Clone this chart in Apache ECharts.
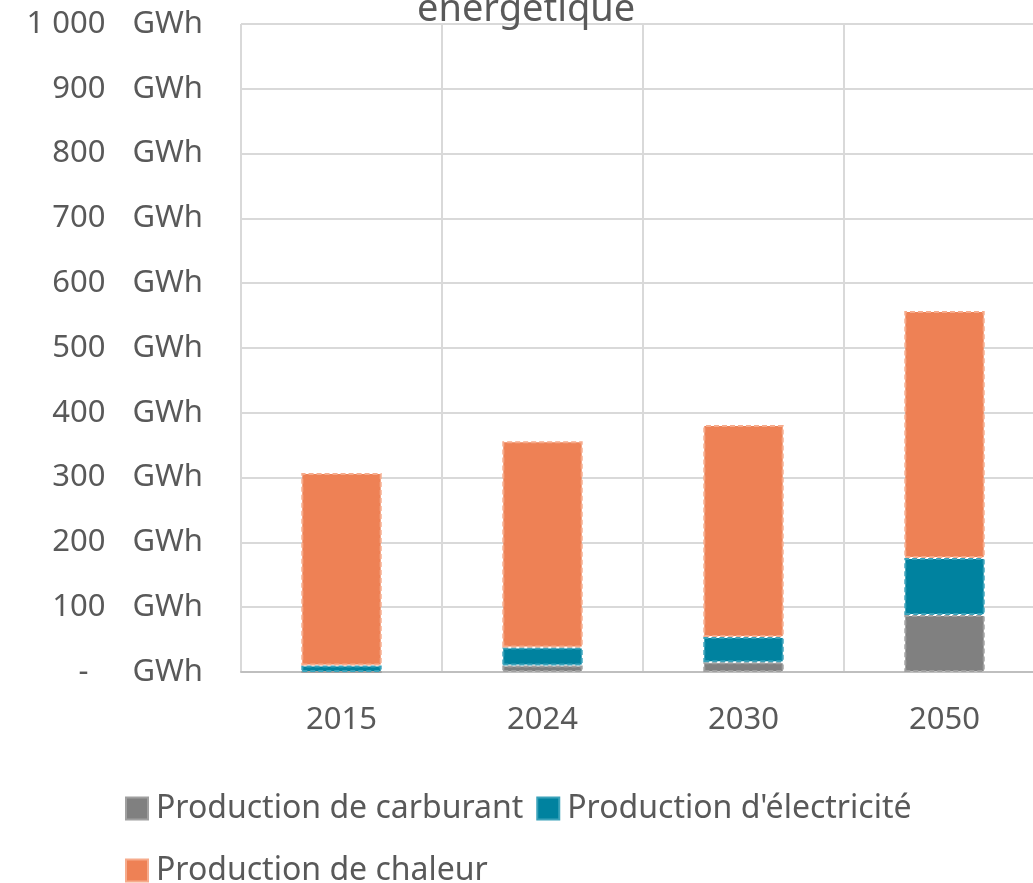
<!DOCTYPE html>
<html>
<head>
<meta charset="utf-8">
<script src="https://cdn.jsdelivr.net/npm/echarts@6/dist/echarts.min.js"></script>
<style>
  html, body { margin: 0; padding: 0; background: #fff; }
  #chart { width: 1033px; height: 883px; }
</style>
</head>
<body>
<div id="chart"></div>
<script>
var years = ['2015', '2024', '2030', '2050'];
var carburant = [0, 10, 15, 88];
var electricite = [10, 28, 39, 88];
var chaleur = [297, 318, 327, 381];

(function(){
    var font = '"Noto Sans", sans-serif';
    var txt = '#595959';
    var mychart = echarts.init(document.getElementById('chart'));

    // excel style "# ##0 GWh" labels, zero shown as a dash
    function fmt(v){
        if (v === 0) return '{z|-}{w|GWh}';
        var s = String(v).replace(/\B(?=(\d{3})+(?!\d))/g, ' ');
        return '{n|' + s + '}{u|GWh}';
    }

    function bar(name, data, fill, border){
        return {
            name: name,
            type: 'bar',
            stack: 'total',
            barWidth: '40%',
            data: data,
            itemStyle: {
                color: fill,
                borderColor: border,
                borderWidth: 2,
                borderType: [5, 3]
            }
        };
    }

    var lbl = { fontSize: 31, color: txt, fontFamily: font };
    var option = {
        animation: false,
        textStyle: { fontFamily: font },
        title: {
            text: 'énergétique',
            left: 417,
            top: -9,
            padding: 0,
            textStyle: { fontFamily: font, fontSize: 38, fontWeight: 'normal', color: txt }
        },
        // the plot runs past the right edge of the picture
        grid: { left: 241, width: 804, top: 24, bottom: 211, outerBoundsMode: 'none' },
        legend: {
            left: 125,
            top: 784,
            width: 840,
            padding: 0,
            itemWidth: 22,
            itemHeight: 22,
            itemGap: 13,
            icon: 'rect',
            textStyle: { fontFamily: font, fontSize: 32, color: txt, lineHeight: 49, padding: [0, 0, 0, 3] },
            data: ['Production de carburant', "Production d'électricité", 'Production de chaleur']
        },
        xAxis: {
            type: 'category',
            data: years,
            axisLine: { lineStyle: { color: '#bfbfbf', width: 2 } },
            axisTick: { show: false },
            splitLine: { show: true, lineStyle: { color: '#d9d9d9', width: 2 } },
            axisLabel: { margin: 33, fontSize: 31, color: txt, fontFamily: font }
        },
        yAxis: {
            type: 'value',
            min: 0,
            max: 1000,
            interval: 100,
            axisLine: { show: false },
            axisTick: { show: false },
            splitLine: { lineStyle: { color: '#d9d9d9', width: 2 } },
            axisLabel: {
                margin: 38,
                formatter: fmt,
                rich: {
                    n: Object.assign({ width: 86, align: 'right' }, lbl),
                    z: Object.assign({ width: 69, align: 'right' }, lbl),
                    u: Object.assign({ padding: [0, 0, 0, 27] }, lbl),
                    w: Object.assign({ padding: [0, 0, 0, 44] }, lbl)
                }
            }
        },
        series: [
            bar('Production de carburant', carburant, '#808080', '#a0a0a0'),
            bar("Production d'électricité", electricite, '#00829f', '#3aa2ba'),
            bar('Production de chaleur', chaleur, '#ee8155', '#f6ab8c')
        ]
    };
    mychart.setOption(option);
})();
</script>
</body>
</html>
